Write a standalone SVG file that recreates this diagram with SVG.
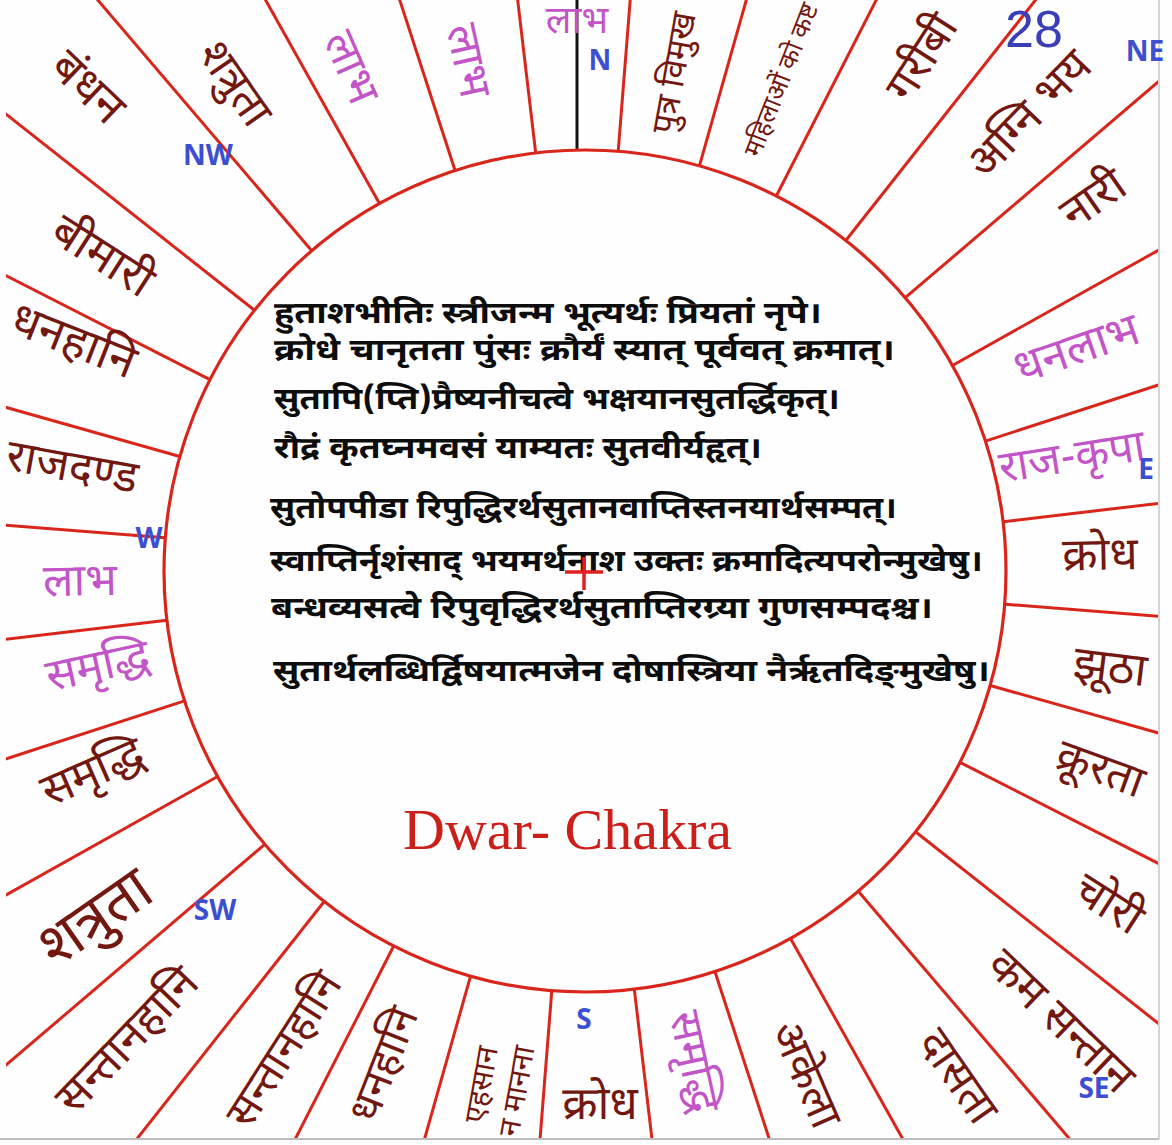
<svg xmlns="http://www.w3.org/2000/svg" width="1172" height="1145" viewBox="0 0 1172 1145">
<defs>
<style>
.dv{font-family:"Noto Sans Devanagari","Lohit Devanagari","Noto Sans",sans-serif;text-anchor:middle}
.m{fill:#721810}
.p{fill:#c255c8}
.rl{stroke:#d8261c;stroke-width:3;fill:none}
.dir{font-family:"Open Sans","Liberation Sans",sans-serif;font-weight:bold;font-size:28px;fill:#3c4fd0;text-anchor:middle}
.sh{font-family:"Noto Sans Devanagari","Lohit Devanagari","Noto Sans",sans-serif;font-weight:bold;font-size:30px;fill:#0d0d0d}
</style>
<clipPath id="paper"><rect x="6" y="0" width="1152" height="1138"/></clipPath>
</defs>
<rect width="1172" height="1145" fill="#fefefe"/>
<g id="connectors" clip-path="url(#paper)">
<g transform="translate(585 571)">
<line class="rl" x1="0" y1="-421" x2="0" y2="-900" transform="rotate(-6.725)"/>
<line class="rl" x1="0" y1="-421" x2="0" y2="-900" transform="rotate(4.525)"/>
<line class="rl" x1="0" y1="-421" x2="0" y2="-900" transform="rotate(15.775)"/>
<line class="rl" x1="0" y1="-421" x2="0" y2="-900" transform="rotate(27.025)"/>
<line class="rl" x1="0" y1="-421" x2="0" y2="-900" transform="rotate(38.275)"/>
<line class="rl" x1="0" y1="-421" x2="0" y2="-900" transform="rotate(49.525)"/>
<line class="rl" x1="0" y1="-421" x2="0" y2="-900" transform="rotate(60.775)"/>
<line class="rl" x1="0" y1="-421" x2="0" y2="-900" transform="rotate(72.025)"/>
<line class="rl" x1="0" y1="-421" x2="0" y2="-900" transform="rotate(83.275)"/>
<line class="rl" x1="0" y1="-421" x2="0" y2="-900" transform="rotate(94.525)"/>
<line class="rl" x1="0" y1="-421" x2="0" y2="-900" transform="rotate(105.775)"/>
<line class="rl" x1="0" y1="-421" x2="0" y2="-900" transform="rotate(117.025)"/>
<line class="rl" x1="0" y1="-421" x2="0" y2="-900" transform="rotate(128.275)"/>
<line class="rl" x1="0" y1="-421" x2="0" y2="-900" transform="rotate(139.525)"/>
<line class="rl" x1="0" y1="-421" x2="0" y2="-900" transform="rotate(150.775)"/>
<line class="rl" x1="0" y1="-421" x2="0" y2="-900" transform="rotate(162.025)"/>
<line class="rl" x1="0" y1="-421" x2="0" y2="-900" transform="rotate(173.275)"/>
<line class="rl" x1="0" y1="-421" x2="0" y2="-900" transform="rotate(184.525)"/>
<line class="rl" x1="0" y1="-421" x2="0" y2="-900" transform="rotate(195.775)"/>
<line class="rl" x1="0" y1="-421" x2="0" y2="-900" transform="rotate(207.025)"/>
<line class="rl" x1="0" y1="-421" x2="0" y2="-900" transform="rotate(218.275)"/>
<line class="rl" x1="0" y1="-421" x2="0" y2="-900" transform="rotate(229.525)"/>
<line class="rl" x1="0" y1="-421" x2="0" y2="-900" transform="rotate(240.775)"/>
<line class="rl" x1="0" y1="-421" x2="0" y2="-900" transform="rotate(252.025)"/>
<line class="rl" x1="0" y1="-421" x2="0" y2="-900" transform="rotate(263.275)"/>
<line class="rl" x1="0" y1="-421" x2="0" y2="-900" transform="rotate(274.525)"/>
<line class="rl" x1="0" y1="-421" x2="0" y2="-900" transform="rotate(285.775)"/>
<line class="rl" x1="0" y1="-421" x2="0" y2="-900" transform="rotate(297.025)"/>
<line class="rl" x1="0" y1="-421" x2="0" y2="-900" transform="rotate(308.275)"/>
<line class="rl" x1="0" y1="-421" x2="0" y2="-900" transform="rotate(319.525)"/>
<line class="rl" x1="0" y1="-421" x2="0" y2="-900" transform="rotate(330.775)"/>
<line class="rl" x1="0" y1="-421" x2="0" y2="-900" transform="rotate(342.025)"/>
</g>
<line x1="577" y1="0" x2="577" y2="149" stroke="#111" stroke-width="3"/>
</g>
<line x1="1159" y1="0" x2="1159" y2="1139" stroke="#d4d4d4" stroke-width="2"/>
<line x1="0" y1="1139" x2="1159" y2="1139" stroke="#bdbdbd" stroke-width="2"/>
<g id="center">
<circle cx="585" cy="571" r="421" fill="none" stroke="#d8261c" stroke-width="3.2"/>
<text class="sh" x="274" y="323" textLength="548" lengthAdjust="spacingAndGlyphs">हुताशभीतिः स्त्रीजन्म भूत्यर्थः प्रियतां नृपे।</text>
<text class="sh" x="274" y="360" textLength="621" lengthAdjust="spacingAndGlyphs">क्रोधे चानृतता पुंसः क्रौर्यं स्यात् पूर्ववत् क्रमात्।</text>
<text class="sh" x="274" y="409" textLength="566" lengthAdjust="spacingAndGlyphs">सुतापि(प्ति)प्रैष्यनीचत्वे भक्षयानसुतर्द्धिकृत्।</text>
<text class="sh" x="274" y="458" textLength="488" lengthAdjust="spacingAndGlyphs">रौद्रं कृतघ्नमवसं याम्यतः सुतवीर्यहृत्।</text>
<text class="sh" x="270" y="518" textLength="627" lengthAdjust="spacingAndGlyphs">सुतोपपीडा रिपुद्धिरर्थसुतानवाप्तिस्तनयार्थसम्पत्।</text>
<text class="sh" x="270" y="571" textLength="713" lengthAdjust="spacingAndGlyphs">स्वाप्तिर्नृशंसाद् भयमर्थनाश उक्तः क्रमादित्यपरोन्मुखेषु।</text>
<text class="sh" x="271" y="618" textLength="662" lengthAdjust="spacingAndGlyphs">बन्धव्यसत्वे रिपुवृद्धिरर्थसुताप्तिरग्र्या गुणसम्पदश्च।</text>
<text class="sh" x="273" y="681" textLength="717" lengthAdjust="spacingAndGlyphs">सुतार्थलब्धिर्द्विषयात्मजेन दोषास्त्रिया नैर्ऋतदिङ्‌मुखेषु।</text>
<path d="M565 572H603M584 557V590" stroke="#e02020" stroke-width="3.5" fill="none"/>
<text x="403" y="849" font-family="Liberation Serif,serif" font-size="58" fill="#cc1f1a">Dwar- Chakra</text>
</g>
<g id="s00"><text class="dv p" font-size="38" transform="translate(577 22)" dy="0.3em">लाभ</text></g>
<g id="s01"><text class="dv m" font-size="34" transform="translate(675 73) rotate(-79.85)" dy="0.3em">पुत्र विमुख</text></g>
<g id="s02"><text class="dv m" font-size="26" transform="translate(782 80) rotate(-68.6)" dy="0.3em">महिलाओं को कष्ट</text></g>
<g id="s03"><text class="dv m" font-size="45" transform="translate(923 58) rotate(-57.35)" dy="0.3em">गरीबी</text></g>
<g id="s04"><text class="dv m" font-size="46" transform="translate(1030 115) rotate(-46.1)" dy="0.3em">अग्नि भय</text></g>
<g id="s05"><text class="dv m" font-size="46" transform="translate(1094 200) rotate(-34.85)" dy="0.3em">नारी</text></g>
<g id="s06"><text class="dv p" font-size="46" transform="translate(1077 350) rotate(-19)" dy="0.3em">धनलाभ</text></g>
<g id="s07"><text class="dv p" font-size="44" transform="translate(1072 458) rotate(-9)" dy="0.3em">राज-कृपा</text></g>
<g id="s08"><text class="dv m" font-size="46" transform="translate(1100 556) rotate(-1.1)" dy="0.3em">क्रोध</text></g>
<g id="s09"><text class="dv m" font-size="46" transform="translate(1110 668) rotate(7)" dy="0.3em">झूठा</text></g>
<g id="s10"><text class="dv m" font-size="45" transform="translate(1100 770) rotate(20)" dy="0.3em">क्रूरता</text></g>
<g id="s11"><text class="dv m" font-size="46" transform="translate(1108 905) rotate(32.65)" dy="0.3em">चोरी</text></g>
<g id="s12"><text class="dv m" font-size="46" transform="translate(1060 1022) rotate(43.9)" dy="0.3em">कम सन्तान</text></g>
<g id="s13"><text class="dv m" font-size="45" transform="translate(957 1077) rotate(55.15)" dy="0.3em">दासता</text></g>
<g id="s14"><text class="dv m" font-size="45" transform="translate(805 1075) rotate(66.4)" dy="0.3em">अकेला</text></g>
<g id="s15"><text class="dv p" font-size="44" transform="translate(693 1062) rotate(77.65)" dy="0.3em">समृद्धि</text></g>
<g id="s16"><text class="dv m" font-size="46" transform="translate(600 1105)" dy="0.3em">क्रोध</text></g>
<g id="s17"><text class="dv m" font-size="30" transform="translate(500 1088) rotate(-79.85)"><tspan x="0" y="-9">एहसान</tspan><tspan x="0" y="27">न मानना</tspan></text></g>
<g id="s18"><text class="dv m" font-size="43" transform="translate(385 1065) rotate(-68.6)" dy="0.3em">धनहानि</text></g>
<g id="s19"><text class="dv m" font-size="44" transform="translate(285 1050) rotate(-57.35)" dy="0.3em">सन्तानहानि</text></g>
<g id="s20"><text class="dv m" font-size="46" transform="translate(128 1041) rotate(-46.1)" dy="0.3em">सन्तानहानि</text></g>
<g id="s21"><text class="dv m" font-size="60" transform="translate(96 919) rotate(-34.85)" dy="0.3em">शत्रुता</text></g>
<g id="s22"><text class="dv m" font-size="46" transform="translate(93 773) rotate(-23.6)" dy="0.3em">समृद्धि</text></g>
<g id="s23"><text class="dv p" font-size="45" transform="translate(98 667) rotate(-12.35)" dy="0.3em">समृद्धि</text></g>
<g id="s24"><text class="dv p" font-size="45" transform="translate(80 582) rotate(-1.1)" dy="0.3em">लाभ</text></g>
<g id="s25"><text class="dv m" font-size="45" transform="translate(72 468) rotate(10.15)" dy="0.3em">राजदण्ड</text></g>
<g id="s26"><text class="dv m" font-size="47" transform="translate(73 342) rotate(21.4)" dy="0.3em">धनहानि</text></g>
<g id="s27"><text class="dv m" font-size="47" transform="translate(102 257) rotate(32.65)" dy="0.3em">बीमारी</text></g>
<g id="s28"><text class="dv m" font-size="47" transform="translate(87 88) rotate(43.9)" dy="0.3em">बंधन</text></g>
<g id="s29"><text class="dv m" font-size="45" transform="translate(234 84) rotate(55.15)" dy="0.3em">शत्रुता</text></g>
<g id="s30"><text class="dv p" font-size="45" transform="translate(350 68) rotate(66.4)" dy="0.3em">लाभ</text></g>
<g id="s31"><text class="dv p" font-size="45" transform="translate(467 61) rotate(77.65)" dy="0.3em">लाभ</text></g>
<g id="directions">
<text class="dir" x="600" y="70">N</text>
<text class="dir" x="1145" y="61">NE</text>
<text class="dir" x="1146" y="479">E</text>
<text class="dir" x="1094" y="1098">SE</text>
<text class="dir" x="584" y="1029">S</text>
<text class="dir" x="215" y="920">SW</text>
<text class="dir" x="149" y="548">W</text>
<text class="dir" x="208" y="165">NW</text>
</g>
<text id="page-number" x="1005" y="47" font-family="Liberation Sans,sans-serif" font-size="52" fill="#3a3fb8">28</text>
</svg>
